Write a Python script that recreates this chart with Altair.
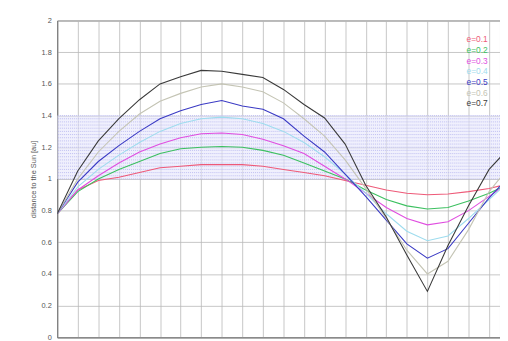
import altair as alt
import pandas as pd

# time steps (gridline index)
steps = list(range(23))

e01 = [0.78, 0.93, 0.99, 1.01, 1.04, 1.07, 1.08, 1.09, 1.09, 1.09, 1.08, 1.06, 1.04, 1.02, 0.99, 0.96, 0.93, 0.91, 0.90, 0.905, 0.92, 0.94, 0.97]
e02 = [0.78, 0.92, 1.00, 1.06, 1.11, 1.16, 1.19, 1.20, 1.205, 1.20, 1.18, 1.15, 1.10, 1.05, 1.00, 0.93, 0.87, 0.83, 0.81, 0.82, 0.86, 0.91, 0.97]
e03 = [0.78, 0.93, 1.02, 1.10, 1.17, 1.22, 1.26, 1.285, 1.29, 1.28, 1.25, 1.21, 1.16, 1.08, 1.00, 0.91, 0.82, 0.75, 0.71, 0.73, 0.80, 0.89, 0.98]
e04 = [0.78, 0.95, 1.06, 1.15, 1.23, 1.30, 1.35, 1.38, 1.39, 1.38, 1.35, 1.30, 1.23, 1.14, 1.03, 0.91, 0.78, 0.67, 0.61, 0.64, 0.75, 0.87, 0.99]
e05 = [0.78, 0.98, 1.11, 1.21, 1.30, 1.38, 1.43, 1.47, 1.495, 1.46, 1.44, 1.38, 1.27, 1.17, 1.03, 0.89, 0.74, 0.59, 0.50, 0.56, 0.72, 0.88, 1.02]
e06 = [0.78, 1.00, 1.17, 1.30, 1.41, 1.49, 1.54, 1.58, 1.60, 1.58, 1.55, 1.48, 1.38, 1.27, 1.12, 0.94, 0.75, 0.55, 0.40, 0.48, 0.68, 0.92, 1.08]
e07 = [0.78, 1.05, 1.24, 1.38, 1.50, 1.60, 1.645, 1.685, 1.68, 1.66, 1.64, 1.565, 1.47, 1.385, 1.22, 0.96, 0.76, 0.52, 0.29, 0.58, 0.83, 1.06, 1.20]

series_names = ["e=0.1", "e=0.2", "e=0.3", "e=0.4", "e=0.5", "e=0.6", "e=0.7"]
series_vals = [e01, e02, e03, e04, e05, e06, e07]
colors = ["#ee5a78", "#3cc060", "#e04ee0", "#9edcee", "#3a3ac4", "#c4c4b4", "#3a3a3a"]

y_ticks = [0, 0.2, 0.4, 0.6, 0.8, 1, 1.2, 1.4, 1.6, 1.8, 2]
band_lines = [round(1.0 + 0.02 * k, 2) for k in range(21)]

rows = []
for name, vals in zip(series_names, series_vals):
    for s, v in zip(steps, vals):
        rows.append({"t": s, "r": v, "e": name})
df = pd.DataFrame(rows)

xs = alt.Scale(domain=[0, 21.53], nice=False, zero=False)
ys = alt.Scale(domain=[0, 2], nice=False)
FONT = "Liberation Sans"

y_axis = alt.Axis(values=y_ticks, format="~g", labelOverlap=False,
                  title="distance to the Sun [au]",
                  titleFont=FONT, titleFontSize=7.5, titleFontWeight="normal",
                  titleColor="#555555", titlePadding=4,
                  labelFont=FONT, labelFontSize=7.5, labelColor="#555555",
                  labelPadding=6, ticks=False, grid=True,
                  gridColor="#b8b8b8", gridWidth=0.8, domainColor="#777777")
x_axis = alt.Axis(values=list(range(22)), labels=False, ticks=False, title=None,
                  grid=True, gridColor="#b8b8b8", gridWidth=0.8,
                  domainColor="#777777")

band = alt.Chart(pd.DataFrame({"y0": [1.0], "y1": [1.4]})).mark_rect(
    color="#e6e6fb", opacity=0.6
).encode(
    y=alt.Y("y0:Q", scale=ys, axis=y_axis),
    y2="y1:Q",
)

band_rules = alt.Chart(pd.DataFrame({"b": band_lines})).mark_rule(
    color="#b4b4ee", strokeWidth=0.8, strokeDash=[1, 1]
).encode(y=alt.Y("b:Q", scale=ys, axis=y_axis))

lines = alt.Chart(df).mark_line(strokeWidth=1.1, clip=True).encode(
    x=alt.X("t:Q", scale=xs, axis=x_axis),
    y=alt.Y("r:Q", scale=ys, axis=y_axis),
    color=alt.Color("e:N", scale=alt.Scale(domain=series_names, range=colors), legend=None),
    detail="e:N",
)

legend_df = pd.DataFrame({
    "e": series_names,
    "ly": [19 + 10.9 * k for k in range(len(series_names))],
})
legend = alt.Chart(legend_df).mark_text(
    align="left", baseline="middle", font=FONT, fontSize=8.5
).encode(
    x=alt.value(416),
    y=alt.Y("ly:Q", scale=None),
    text="e:N",
    color=alt.Color("e:N", scale=alt.Scale(domain=series_names, range=colors), legend=None),
)

chart = alt.layer(band, band_rules, lines, legend).properties(
    width=450, height=322,
    autosize=alt.AutoSizeParams(type="none"),
    padding={"left": 50, "top": 10, "right": 0, "bottom": 0},
    background="white",
).configure_view(stroke="#777777", strokeWidth=1)

chart.save("out.html", embed_options={"renderer": "svg", "actions": False})
